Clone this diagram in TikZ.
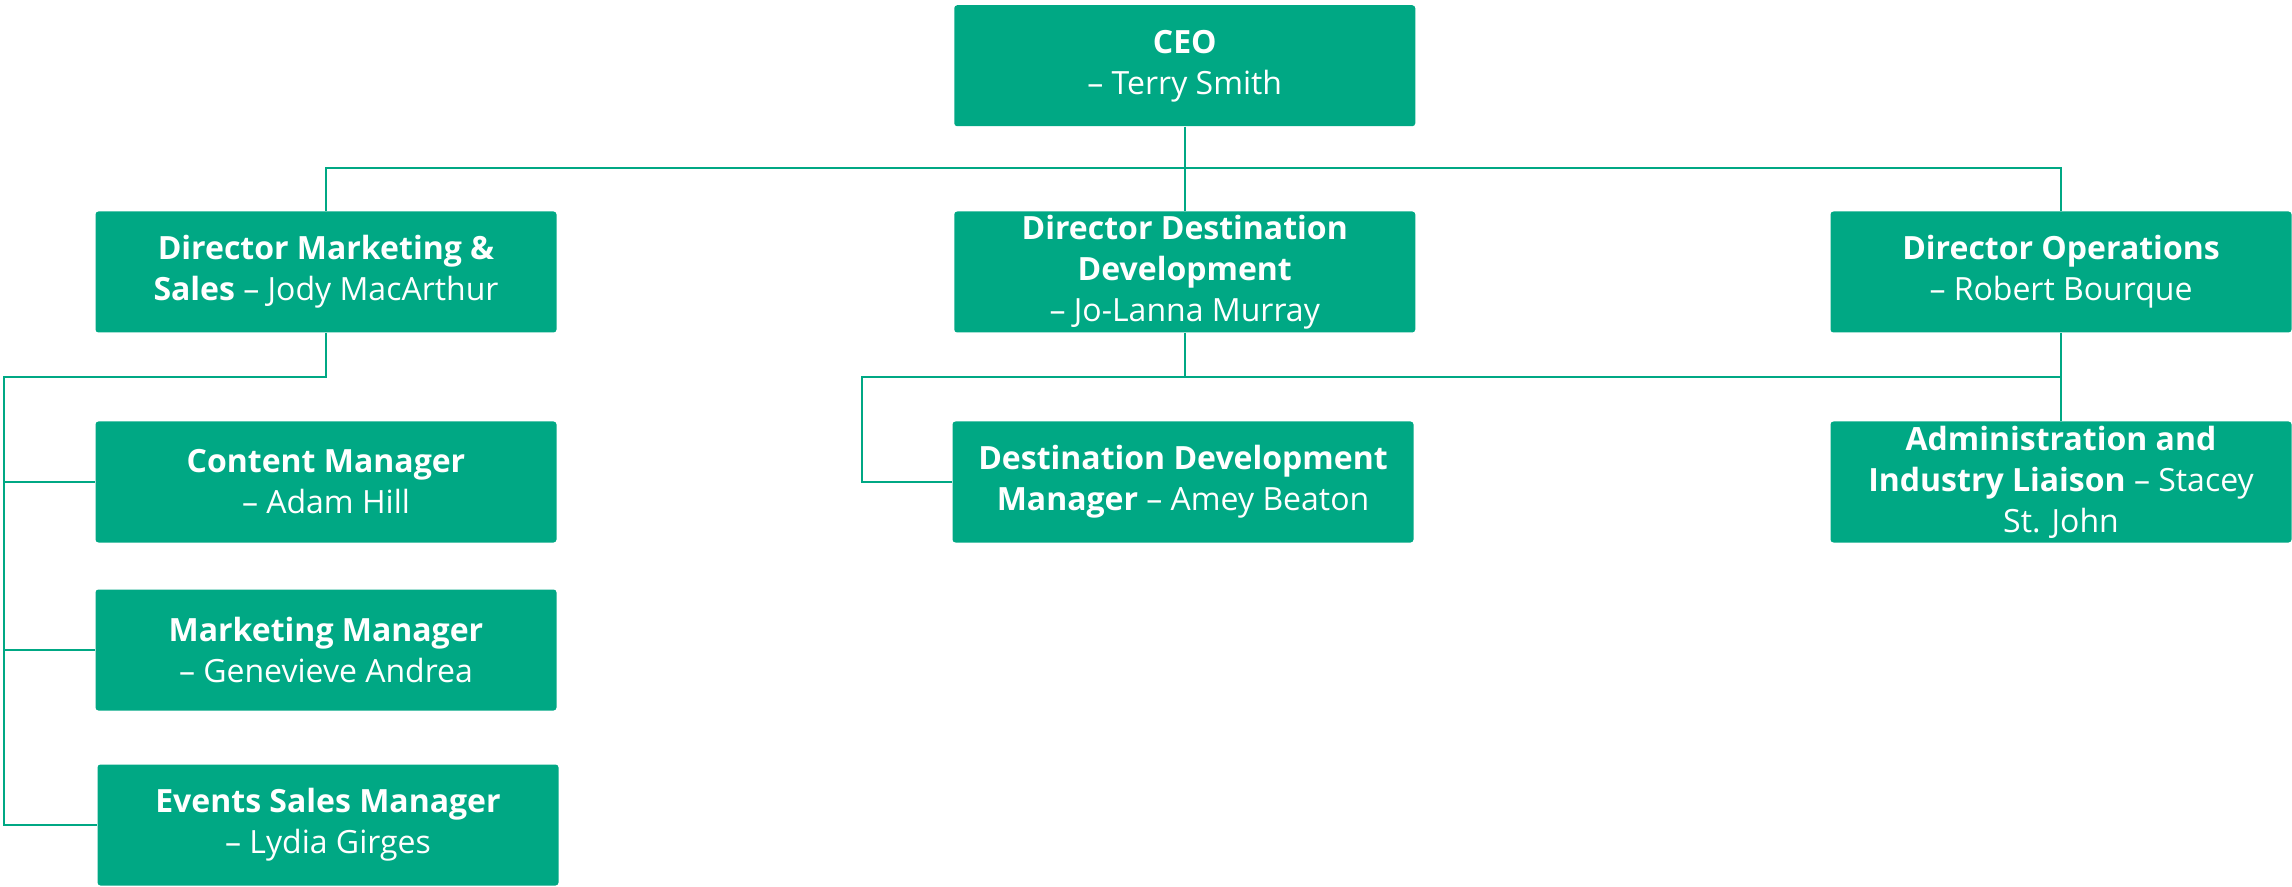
\documentclass[tikz,border=0pt]{standalone}
\usepackage{fontspec}
\setmainfont{Open Sans}
\definecolor{orggreen}{HTML}{00A884}
\begin{document}
\begin{tikzpicture}[x=0.5pt,y=-0.5pt,
  role/.style={fill=orggreen, draw=none, rounded corners=1.5pt,
    minimum width=230.5pt, minimum height=60.5pt, inner sep=0pt,
    align=center, text=white,
    font=\fontsize{16}{20.5}\selectfont},
  link/.style={draw=orggreen, line width=1pt}]
\useasboundingbox (0,0) rectangle (2292,887);

% top level
\node[role] (ceo) at (1184.75,65.75) {\textbf{CEO}\\– Terry Smith};

% directors
\node[role] (dmkt)  at (326,272)     {\textbf{Director Marketing \&}\\\textbf{Sales} – Jody MacArthur};
\node[role] (ddest) at (1184.75,272) {\textbf{Director Destination}\\\textbf{Development}\\– Jo-Lanna Murray};
\node[role] (dops)  at (2061,272)    {\textbf{Director Operations}\\– Robert Bourque};

% managers
\node[role] (cm)  at (326,482)  {\textbf{Content Manager}\\– Adam Hill};
\node[role] (mm)  at (326,650)  {\textbf{Marketing Manager}\\– Genevieve Andrea};
\node[role] (esm) at (328,825)  {\textbf{Events Sales Manager}\\– Lydia Girges};
\node[role] (ddm) at (1183,482) {\textbf{Destination Development}\\\textbf{Manager} – Amey Beaton};
\node[role] (adm) at (2061,482) {\textbf{Administration and}\\\textbf{Industry Liaison} – Stacey\\St. John};

% bus lines
\coordinate (busA)  at (0,168);
\coordinate (mrail) at (4,377);
\coordinate (drail) at (862,377);

% CEO to directors
\draw[link] (ceo.south) -- (ddest.north);
\draw[link] (dmkt.north) -- (dmkt.north |- busA) -- (dops.north |- busA) -- (dops.north);

% marketing team
\draw[link] (dmkt.south) |- (mrail) -- (mrail |- esm.west) -- (esm.west);
\draw[link] (mrail |- cm.west) -- (cm.west);
\draw[link] (mrail |- mm.west) -- (mm.west);

% destination development and operations teams
\draw[link] (ddest.south) -- (ddest.south |- drail);
\draw[link] (ddm.west) -- (drail |- ddm.west) -- (drail) -- (dops.south |- drail);
\draw[link] (dops.south) -- (adm.north);
\end{tikzpicture}
\end{document}
